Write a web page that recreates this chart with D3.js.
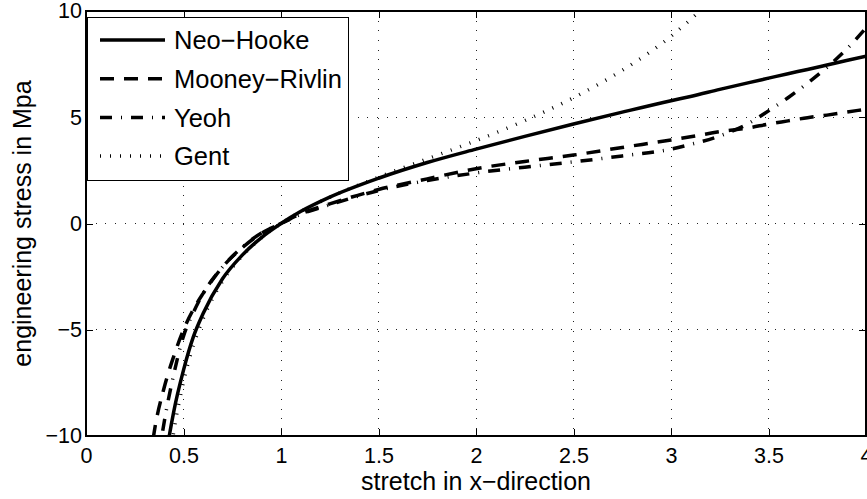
<!DOCTYPE html>
<html>
<head>
<meta charset="utf-8">
<script src="https://cdn.jsdelivr.net/npm/d3@7"></script>
<style>
  body { margin: 0; background: #fff; }
  text { font-family: "Liberation Sans", Arial, sans-serif; fill: #000; }
</style>
</head>
<body>
<svg width="867" height="499"></svg>
<script>
// stretch values (x) shared by all four models
var stretch = [0.3, 0.35, 0.4, 0.45, 0.5, 0.55, 0.6, 0.7, 0.8, 0.9, 1.0, 1.1, 1.25, 1.5, 1.75,
               2.0, 2.25, 2.5, 2.75, 3.0, 3.1, 3.25, 3.4, 3.5, 3.6, 3.7, 3.8, 3.9, 4.0];

// engineering stress in Mpa
var neoHooke = [-21.6, -15.6, -11.6, -8.85, -6.9, -5.35, -4.25, -2.6, -1.5, -0.66, 0, 0.56, 1.24, 2.13, 2.87,
                3.5, 4.1, 4.68, 5.24, 5.78, 5.98, 6.31, 6.63, 6.84, 7.05, 7.25, 7.46, 7.67, 7.87];
var mooneyRivlin = [-13.5, -9.8, -7.75, -6.25, -5.0, -4.05, -3.3, -2.05, -1.15, -0.46, 0, 0.45, 0.92, 1.6, 2.1,
                    2.58, 2.92, 3.22, 3.58, 3.93, 4.08, 4.32, 4.5, 4.68, 4.83, 4.98, 5.1, 5.24, 5.38];
var yeoh = [-17, -12.5, -9.4, -7.1, -5.3, -4.2, -3.3, -2.05, -1.12, -0.45, 0, 0.43, 0.88, 1.55, 2.02,
            2.38, 2.65, 2.9, 3.18, 3.5, 3.72, 4.12, 4.72, 5.3, 5.92, 6.6, 7.35, 8.2, 9.2];
var gent = [-26.8, -18.3, -13.2, -9.8, -7.45, -5.75, -4.5, -2.72, -1.54, -0.67, 0, 0.55, 1.23, 2.18, 3.04,
            3.9, 4.84, 5.92, 7.21, 8.81, 9.6, 10.9, 12.5, null, null, null, null, null, null];

var seriesNames = ["Neo\u2212Hooke", "Mooney\u2212Rivlin", "Yeoh", "Gent"];
var seriesValues = [neoHooke, mooneyRivlin, yeoh, gent];
var seriesDash = [null, "14,10", "12,9,1,9", "1,9"];

var xTicks = [0, 0.5, 1, 1.5, 2, 2.5, 3, 3.5, 4];
var xTickLabels = ["0", "0.5", "1", "1.5", "2", "2.5", "3", "3.5", "4"];
var yTicks = [-10, -5, 0, 5, 10];
var yTickLabels = ["\u221210", "\u22125", "0", "5", "10"];

var svg = d3.select("svg"),
    margin = {top: 11, right: 1, bottom: 63, left: 86},
    width = +svg.attr("width") - margin.left - margin.right,
    height = +svg.attr("height") - margin.top - margin.bottom,
    g = svg.append("g").attr("transform", "translate(" + margin.left + "," + margin.top + ")");

var x = d3.scaleLinear().domain([0, 4]).range([0, width]);
var y = d3.scaleLinear().domain([-10, 10]).range([height, 0]);

// dotted grid
g.append("g")
    .selectAll("line.vx")
    .data(xTicks.slice(1, -1))
    .enter().append("line")
      .attr("x1", function(d) { return x(d); })
      .attr("x2", function(d) { return x(d); })
      .attr("y1", 0).attr("y2", height)
      .attr("stroke", "#222")
      .attr("stroke-dasharray", "1,8.7")
      .attr("shape-rendering", "crispEdges");

g.append("g")
    .selectAll("line.hy")
    .data(yTicks.slice(1, -1))
    .enter().append("line")
      .attr("y1", function(d) { return y(d); })
      .attr("y2", function(d) { return y(d); })
      .attr("x1", 0).attr("x2", width)
      .attr("stroke", "#222")
      .attr("stroke-dasharray", "1,8.7")
      .attr("shape-rendering", "crispEdges");

// curves, clipped to the axes box
g.append("clipPath").attr("id", "clip")
  .append("rect").attr("width", width).attr("height", height);

var line = d3.line()
    .defined(function(d) { return d[1] != null; })
    .curve(d3.curveMonotoneX)
    .x(function(d) { return x(d[0]); })
    .y(function(d) { return y(d[1]); });

var curves = g.append("g").attr("clip-path", "url(#clip)");

// draw back to front: Gent, Yeoh, Mooney-Rivlin, Neo-Hooke
[3, 2, 1, 0].forEach(function(i) {
  curves.append("path")
      .datum(stretch.map(function(s, j) { return [s, seriesValues[i][j]]; }))
      .attr("fill", "none")
      .attr("stroke", "#000")
      .attr("stroke-width", 3.5)
      .attr("stroke-dasharray", seriesDash[i])
      .attr("d", line);
});

// axes: ticks point inward, like matlab
var xAxis = d3.axisBottom(x).tickValues(xTicks)
    .tickFormat(function(d, i) { return xTickLabels[i]; })
    .tickSizeInner(-7).tickSizeOuter(0).tickPadding(12);
var yAxis = d3.axisLeft(y).tickValues(yTicks)
    .tickFormat(function(d, i) { return yTickLabels[i]; })
    .tickSizeInner(-7).tickSizeOuter(0).tickPadding(4);

g.append("g")
    .attr("transform", "translate(0," + height + ")")
    .call(xAxis)
    .call(function(a) { a.select(".domain").remove(); });

g.append("g")
    .call(yAxis)
    .call(function(a) { a.select(".domain").remove(); });

g.append("g")
    .call(d3.axisTop(x).tickValues(xTicks).tickFormat("").tickSizeInner(-7).tickSizeOuter(0))
    .call(function(a) { a.select(".domain").remove(); });

g.append("g")
    .attr("transform", "translate(" + width + ",0)")
    .call(d3.axisRight(y).tickValues(yTicks).tickFormat("").tickSizeInner(-7).tickSizeOuter(0))
    .call(function(a) { a.select(".domain").remove(); });

g.selectAll(".tick line").attr("stroke", "#000").attr("shape-rendering", "crispEdges");
g.selectAll(".tick text")
    .style("font-family", "'Liberation Sans', Arial, sans-serif")
    .style("font-size", "21.5px");

g.append("rect")
    .attr("width", width)
    .attr("height", height)
    .attr("fill", "none")
    .attr("stroke", "#000")
    .attr("stroke-width", 1.3)
    .attr("shape-rendering", "crispEdges");

// axis labels
svg.append("text")
    .attr("x", margin.left + width / 2)
    .attr("y", 490)
    .attr("text-anchor", "middle")
    .style("font-size", "25px")
    .text("stretch in x\u2212direction");

svg.append("text")
    .attr("transform", "translate(31," + (margin.top + height / 2) + ") rotate(-90)")
    .attr("text-anchor", "middle")
    .style("font-size", "25px")
    .text("engineering stress in Mpa");

// legend
var legend = svg.append("g").attr("transform", "translate(87,17)");

legend.append("rect")
    .attr("x", 0.5).attr("y", 0.5)
    .attr("width", 261).attr("height", 163)
    .attr("fill", "#fff")
    .attr("stroke", "#000")
    .attr("stroke-width", 1.3)
    .attr("shape-rendering", "crispEdges");

var item = legend.selectAll(".item")
    .data(seriesNames)
    .enter().append("g")
      .attr("transform", function(d, i) { return "translate(0," + (23 + i * 38.7) + ")"; });

item.append("line")
    .attr("x1", 13).attr("x2", 78)
    .attr("stroke", "#000")
    .attr("stroke-width", 3.5)
    .attr("stroke-dasharray", function(d, i) { return seriesDash[i]; });

item.append("text")
    .attr("x", 87)
    .attr("dy", "0.36em")
    .style("font-size", "25.5px")
    .text(function(d) { return d; });
</script>
</body>
</html>
